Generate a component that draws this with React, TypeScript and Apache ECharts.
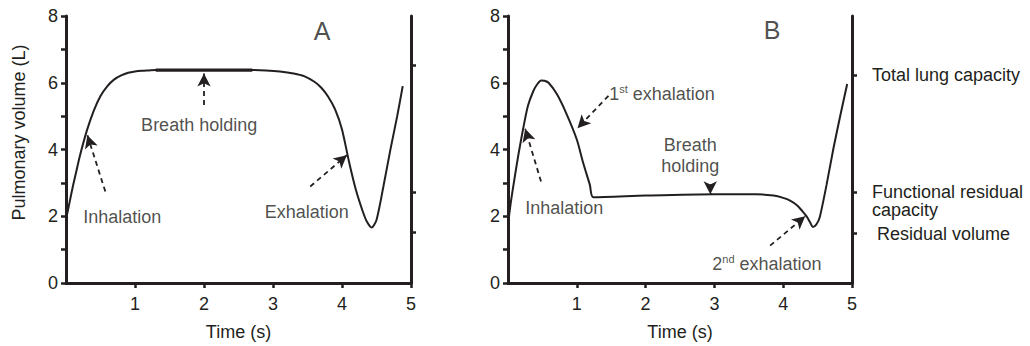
import React, { useEffect, useRef } from "react";
import * as echarts from "echarts";

// ---------- data ----------
const timeTicks = [1, 2, 3, 4, 5];
const volumeTicks = [0, 1, 2, 3, 4, 5, 6, 7, 8];
const volumeLabels = [0, 2, 4, 6, 8];

// Panel A
const timeA = [0, 0.05, 0.1, 0.15, 0.2, 0.3, 0.4, 0.5, 0.6, 0.7, 0.8, 0.9, 1.0, 1.1, 1.2, 1.3, 2.7, 2.9, 3.1, 3.3, 3.45, 3.6, 3.7, 3.8, 3.9, 4.0, 4.1, 4.2, 4.3, 4.36, 4.43, 4.5, 4.6, 4.7, 4.8, 4.88];
const volumeA = [1.9, 2.4, 2.9, 3.35, 3.8, 4.55, 5.15, 5.6, 5.9, 6.1, 6.22, 6.3, 6.34, 6.36, 6.37, 6.38, 6.38, 6.37, 6.34, 6.28, 6.2, 6.03, 5.85, 5.58, 5.2, 4.6, 3.65, 2.8, 2.15, 1.84, 1.66, 1.89, 2.89, 3.98, 5.0, 5.9];
const holdTimeA = [1.3, 2.7];
const holdVolumeA = [6.38, 6.38];
const refValuesA = [6.53, 2.73, 1.53];

// Panel B
const timeB = [0, 0.04, 0.08, 0.15, 0.22, 0.29, 0.37, 0.43, 0.48, 0.53, 0.59, 0.71, 0.85, 1.0, 1.09, 1.19, 1.24, 2.0, 3.0, 3.6, 3.86, 4.0, 4.1, 4.2, 4.28, 4.34, 4.4, 4.43, 4.48, 4.53, 4.63, 4.73, 4.83, 4.93];
const volumeB = [1.76, 2.4, 2.94, 3.83, 4.62, 5.31, 5.76, 5.97, 6.07, 6.06, 6.0, 5.66, 5.07, 4.3, 3.62, 2.94, 2.57, 2.62, 2.66, 2.66, 2.62, 2.55, 2.47, 2.33, 2.15, 2.0, 1.78, 1.68, 1.75, 1.96, 2.94, 4.03, 5.02, 5.96];
const refValuesB = [6.22, 2.73, 1.48];
const refNamesB = ["Total lung capacity", "\nFunctional residual\ncapacity", " Residual volume"];

// Annotation arrows: [from, to] in (time, volume)
const arrowsA = [
  [[0.57, 2.74], [0.31, 4.43]],
  [[2.0, 5.33], [2.0, 6.28]],
  [[3.54, 2.89], [4.07, 3.83]],
];
const arrowsB = [
  [[0.48, 3.04], [0.25, 4.62]],
  [[1.46, 5.61], [1.01, 4.64]],
  [[2.94, 2.97], [2.94, 2.66]],
  [[3.81, 1.12], [4.32, 2.0]],
];

// Annotation texts: [time, volume, text, align]
const notesA: [number, number, string, string][] = [
  [0.25, 1.98, "Inhalation", "left"],
  [1.93, 4.73, "Breath holding", "center"],
  [3.49, 2.13, "Exhalation", "center"],
];
const notesB: [number, number, string, string][] = [
  [0.25, 2.25, "Inhalation", "left"],
  [1.47, 5.66, "{n|1}{s|st}{n| exhalation}", "left"],
  [2.65, 3.81, "Breath\nholding", "center"],
  [2.97, 0.56, "{n|2}{s|nd}{n| exhalation}", "left"],
];
const panelTitles: [number, number, string][] = [
  [3.71, 7.55, "A"],
  [3.84, 7.59, "B"],
];

// ---------- styles ----------
const INK = "#231f20";
const FONT = "'Liberation Sans', Arial, Helvetica, sans-serif";

function pairs(xs: number[], ys: number[]) {
  return xs.map((x, i) => [x, ys[i]]);
}

function makeXAxis(gridIndex: number) {
  return {
    type: "value",
    gridIndex,
    min: 0,
    max: 5,
    interval: 1,
    name: "Time (s)",
    nameLocation: "middle",
    nameGap: 40,
    nameTextStyle: { color: INK, fontSize: 18, fontFamily: FONT },
    axisLine: { show: true, onZero: false, lineStyle: { color: INK, width: 3 } },
    axisTick: { show: true, inside: false, length: 5, customValues: timeTicks, lineStyle: { color: INK, width: 2.5 } },
    axisLabel: { show: true, customValues: timeTicks, margin: 12, color: INK, fontSize: 18, fontFamily: FONT },
    splitLine: { show: false },
  };
}

function makeLeftY(gridIndex: number, withName: boolean) {
  return {
    type: "value",
    gridIndex,
    position: "left",
    min: 0,
    max: 8,
    interval: 1,
    name: withName ? "Pulmonary volume (L)" : "",
    nameLocation: "middle",
    nameRotate: 90,
    nameGap: 38,
    nameTextStyle: { color: INK, fontSize: 18, fontFamily: FONT, padding: [0, 0, 0, 34] },
    axisLine: { show: true, onZero: false, lineStyle: { color: INK, width: 3 } },
    axisTick: { show: true, inside: false, length: 5, customValues: volumeTicks, lineStyle: { color: INK, width: 2.5 } },
    axisLabel: { show: true, customValues: volumeLabels, margin: 8, color: INK, fontSize: 18, fontFamily: FONT },
    splitLine: { show: false },
  };
}

function makeRightY(gridIndex: number, values: number[], names: string[] | null) {
  return {
    type: "value",
    gridIndex,
    position: "right",
    min: 0,
    max: 8,
    interval: 1,
    axisLine: { show: true, onZero: false, lineStyle: { color: INK, width: 3 } },
    axisTick: { show: true, inside: false, length: 5, customValues: values, lineStyle: { color: INK, width: 2.5 } },
    axisLabel: names
      ? {
          show: true,
          customValues: values,
          margin: 20,
          color: INK,
          fontSize: 18,
          lineHeight: 18,
          fontFamily: FONT,
          formatter: (v: number) => {
            let best = 0;
            values.forEach((r, i) => {
              if (Math.abs(r - v) < Math.abs(values[best] - v)) best = i;
            });
            return names[best];
          },
        }
      : { show: false },
    splitLine: { show: false },
  };
}

function arrowMarkLine(arrows: number[][][]) {
  return {
    silent: true,
    symbol: ["none", "arrow"],
    symbolSize: [10, 13],
    label: { show: false },
    emphasis: { disabled: true },
    lineStyle: { color: INK, width: 1.8, type: [5, 4] },
    itemStyle: { color: INK },
    data: arrows.map(([a, b]) => [{ coord: a }, { coord: b }]),
  };
}

const richStyles = {
  n: { fontSize: 18, color: INK, fontFamily: FONT },
  s: { fontSize: 11, color: INK, fontFamily: FONT, verticalAlign: "top", padding: [0, 0, 8, 0] },
};

function noteSeries(xAxisIndex: number, yAxisIndex: number, notes: [number, number, string, string][], title: [number, number, string]) {
  const data: any[] = notes.map(([t, v, text, align]) => ({
    value: [t, v],
    label: {
      show: true,
      position: [0, 0],
      align,
      verticalAlign: "middle",
      formatter: text,
      color: INK,
      fontSize: 18,
      lineHeight: 21,
      fontFamily: FONT,
      rich: richStyles,
    },
  }));
  data.push({
    value: [title[0], title[1]],
    label: {
      show: true,
      position: [0, 0],
      align: "center",
      verticalAlign: "middle",
      formatter: title[2],
      color: INK,
      fontSize: 25,
      fontFamily: FONT,
    },
  });
  return {
    type: "scatter",
    xAxisIndex,
    yAxisIndex,
    symbolSize: 0,
    silent: true,
    data,
  };
}

export default function App() {
  const ref = useRef<HTMLDivElement>(null);
  useEffect(() => {
    if (!ref.current) return;
    const chart = echarts.init(ref.current, null, { renderer: "svg" });
    chart.setOption({
      animation: false,
      backgroundColor: "#ffffff",
      textStyle: { fontFamily: FONT },
      grid: [
        { left: 66, top: 16, width: 345, height: 267 },
        { left: 508, top: 16, width: 344, height: 270 },
      ],
      xAxis: [makeXAxis(0), makeXAxis(1)],
      yAxis: [
        makeLeftY(0, true),
        makeRightY(0, refValuesA, null),
        makeLeftY(1, false),
        makeRightY(1, refValuesB, refNamesB),
      ],
      series: [
        {
          type: "line",
          xAxisIndex: 0,
          yAxisIndex: 0,
          data: pairs(timeA, volumeA),
          smooth: 0.25,
          showSymbol: false,
          lineStyle: { color: INK, width: 2 },
          silent: true,
          markLine: arrowMarkLine(arrowsA),
        },
        {
          type: "line",
          xAxisIndex: 0,
          yAxisIndex: 0,
          data: pairs(holdTimeA, holdVolumeA),
          showSymbol: false,
          lineStyle: { color: INK, width: 3.2 },
          silent: true,
        },
        noteSeries(0, 0, notesA, panelTitles[0]),
        {
          type: "line",
          xAxisIndex: 1,
          yAxisIndex: 2,
          data: pairs(timeB, volumeB),
          smooth: 0.25,
          showSymbol: false,
          lineStyle: { color: INK, width: 2 },
          silent: true,
          markLine: arrowMarkLine(arrowsB),
        },
        noteSeries(1, 2, notesB, panelTitles[1]),
      ],
    });
    return () => chart.dispose();
  }, []);
  return (
    <div
      ref={ref}
      style={{ position: "absolute", left: 0, top: 0, width: 1030, height: 346 }}
    />
  );
}
